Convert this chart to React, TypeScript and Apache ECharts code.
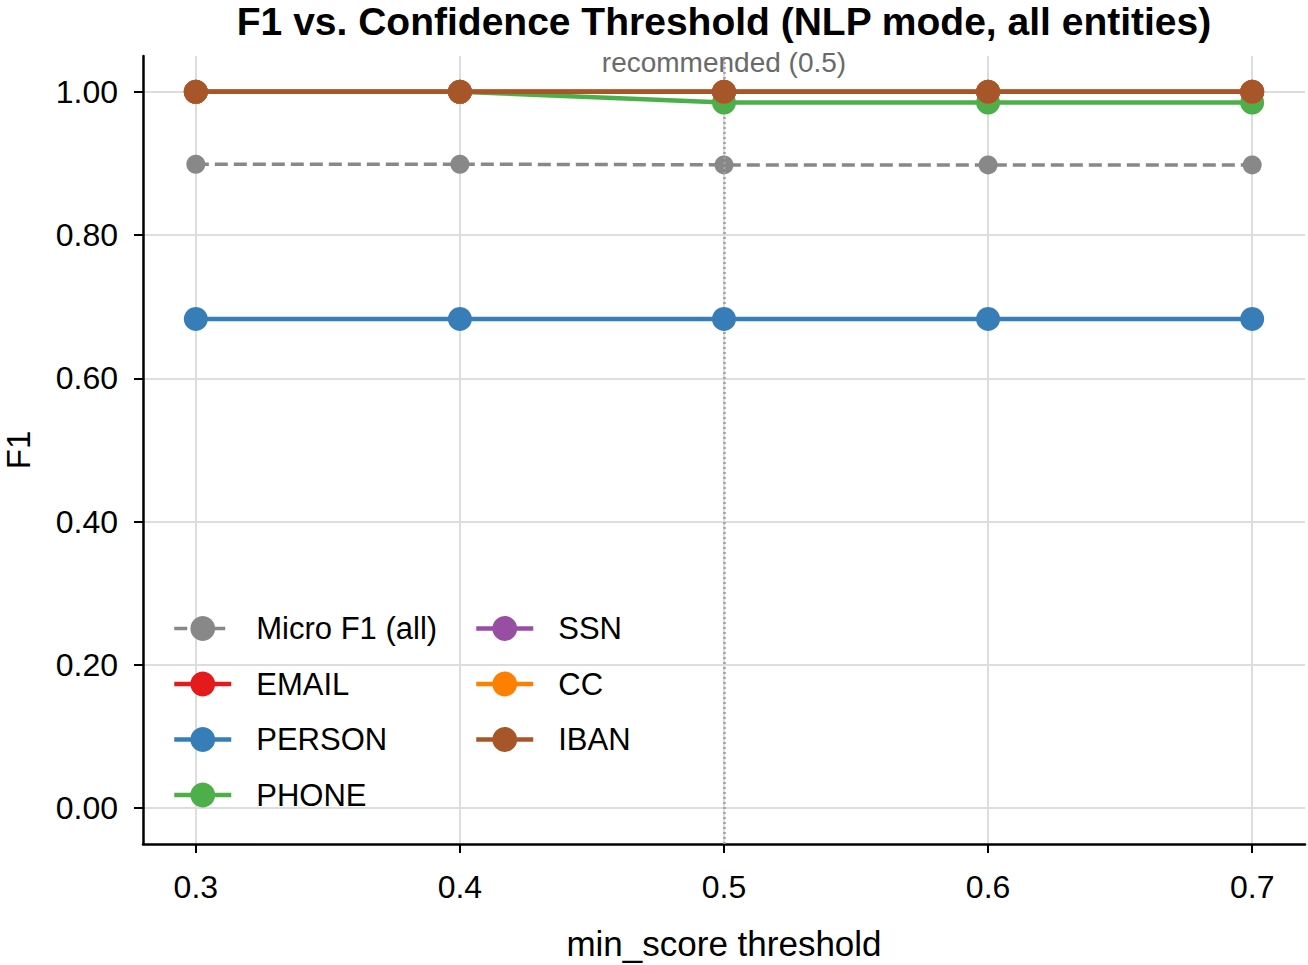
import React, { useEffect, useRef } from "react";
import * as echarts from "echarts";

// Thresholds swept on the x axis
const thresholds = [0.3, 0.4, 0.5, 0.6, 0.7];
const yTicks = [0, 0.2, 0.4, 0.6, 0.8, 1.0];

// F1 per threshold
const microF1 = [0.899, 0.899, 0.898, 0.898, 0.898];
const emailF1 = [1.0, 1.0, 1.0, 1.0, 1.0];
const personF1 = [0.683, 0.683, 0.683, 0.683, 0.683];
const phoneF1 = [1.0, 1.0, 0.985, 0.985, 0.985];
const ssnF1 = [1.0, 1.0, 1.0, 1.0, 1.0];
const ccF1 = [1.0, 1.0, 1.0, 1.0, 1.0];
const ibanF1 = [1.0, 1.0, 1.0, 1.0, 1.0];

const recommended = 0.5;

const FONT = "'Liberation Sans', Helvetica, Arial, sans-serif";

const entitySeries = [
  { name: "EMAIL", color: "#e41a1c", values: emailF1 },
  { name: "PERSON", color: "#377eb8", values: personF1 },
  { name: "PHONE", color: "#4daf4a", values: phoneF1 },
  { name: "SSN", color: "#984ea3", values: ssnF1 },
  { name: "CC", color: "#ff7f00", values: ccF1 },
  { name: "IBAN", color: "#a65628", values: ibanF1 },
];

const pair = (vals: number[]) => thresholds.map((t, i) => [t, vals[i]]);

export default function App() {
  const ref = useRef<HTMLDivElement>(null);

  useEffect(() => {
    if (!ref.current) return;
    const chart = echarts.init(ref.current, null, { renderer: "svg" });

    const legendText = { fontFamily: FONT, fontSize: 31, color: "#000", padding: [0, 0, 0, 20] };
    const legendBase = {
      orient: "vertical",
      top: 613,
      padding: 0,
      itemWidth: 57,
      itemHeight: 31,
      itemGap: 24.5,
      textStyle: legendText,
      selectedMode: false,
      lineStyle: { width: 4.5 },
    };

    const series: any[] = [
      {
        name: "Micro F1 (all)",
        type: "line",
        data: pair(microF1),
        symbol: "circle",
        symbolSize: 19,
        clip: false,
        z: 3,
        itemStyle: { color: "#888888" },
        lineStyle: { color: "#888888", width: 3.5, type: [13, 6] },
        markLine: {
          silent: true,
          symbol: "none",
          label: { show: false },
          lineStyle: { color: "#a0a0a0", width: 2.5, type: [2, 3] },
          data: [{ xAxis: recommended }],
        },
      },
      ...entitySeries.map((s, i) => ({
        name: s.name,
        type: "line",
        data: pair(s.values),
        symbol: "circle",
        symbolSize: 24,
        clip: false,
        z: 4 + i,
        itemStyle: { color: s.color },
        lineStyle: { color: s.color, width: 4.5 },
      })),
    ];

    chart.setOption({
      animation: false,
      backgroundColor: "#ffffff",
      title: {
        text: "F1 vs. Confidence Threshold (NLP mode, all entities)",
        left: 724,
        top: 2,
        padding: 0,
        textAlign: "center",
        textStyle: { fontFamily: FONT, fontSize: 39, fontWeight: "bold", color: "#000" },
      },
      legend: [
        {
          ...legendBase,
          left: 172,
          data: [
            { name: "Micro F1 (all)", lineStyle: { width: 3.5, type: [13, 6] } },
            "EMAIL",
            "PERSON",
            "PHONE",
          ],
        },
        {
          ...legendBase,
          left: 474,
          data: ["SSN", "CC", "IBAN"],
        },
      ],
      grid: { left: 143, right: 3, top: 56, bottom: 121, containLabel: false, outerBoundsMode: "none" },
      xAxis: {
        type: "value",
        min: 0.28,
        max: 0.72,
        name: "min_score threshold",
        nameLocation: "middle",
        nameGap: 82,
        nameTextStyle: { fontFamily: FONT, fontSize: 35, color: "#000" },
        axisLine: { show: true, onZero: false, lineStyle: { color: "#000", width: 2.5 } },
        axisTick: { show: true, customValues: thresholds, length: 9, lineStyle: { color: "#000", width: 2 } },
        axisLabel: {
          customValues: thresholds,
          formatter: (v: number) => v.toFixed(1),
          margin: 27,
          fontFamily: FONT,
          fontSize: 32,
          color: "#000",
        },
        splitLine: { show: true, lineStyle: { color: "#dddddd", width: 2 } },
      },
      yAxis: {
        type: "value",
        min: -0.05,
        max: 1.05,
        name: "F1",
        nameLocation: "middle",
        nameGap: 108,
        nameRotate: 90,
        nameTextStyle: { fontFamily: FONT, fontSize: 33, color: "#000" },
        axisLine: { show: true, onZero: false, lineStyle: { color: "#000", width: 2.5 } },
        axisTick: { show: true, customValues: yTicks, length: 9, lineStyle: { color: "#000", width: 2 } },
        axisLabel: {
          customValues: yTicks,
          formatter: (v: number) => v.toFixed(2),
          margin: 25,
          fontFamily: FONT,
          fontSize: 32,
          color: "#000",
        },
        splitLine: { show: true, lineStyle: { color: "#dddddd", width: 2 } },
      },
      series,
    });

    // Annotation for the recommended threshold, placed through the axes
    const [ax, ay] = chart.convertToPixel({ gridIndex: 0 }, [recommended, 1.022]) as number[];
    chart.setOption({
      graphic: [
        {
          type: "text",
          x: ax,
          y: ay,
          z: 10,
          style: {
            text: `recommended (${recommended})`,
            fontFamily: FONT,
            fontSize: 28,
            fill: "#6a6a6a",
            align: "center",
            verticalAlign: "bottom",
          },
        },
      ],
    });

    return () => chart.dispose();
  }, []);

  return (
    <div
      ref={ref}
      style={{ position: "absolute", left: 0, top: 0, width: 1308, height: 965 }}
    />
  );
}
